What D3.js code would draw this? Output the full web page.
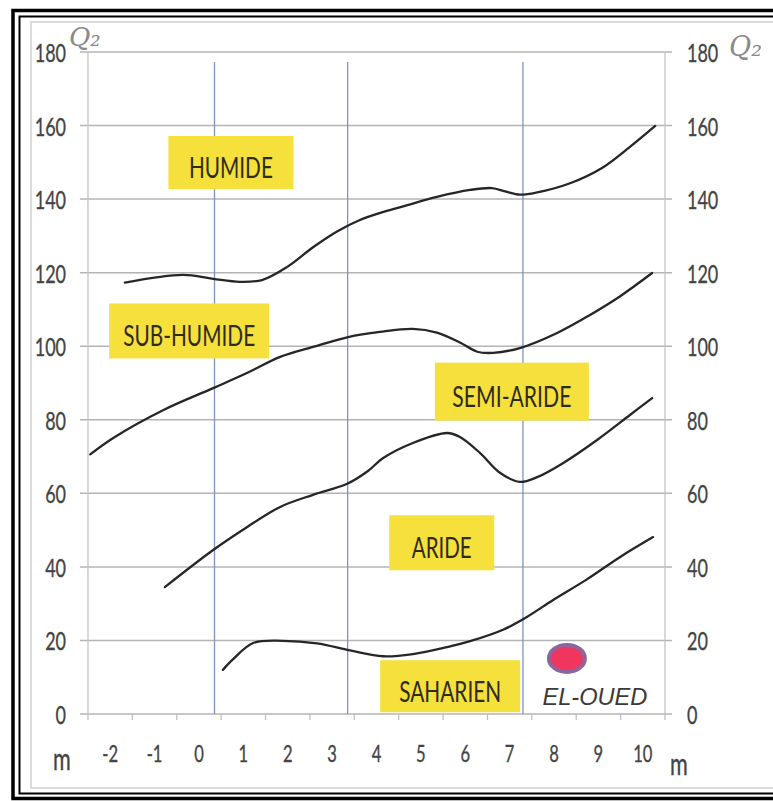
<!DOCTYPE html>
<html><head><meta charset="utf-8">
<script src="https://cdn.jsdelivr.net/npm/d3@7"></script>
<style>html,body{margin:0;padding:0;background:#fff;}svg{display:block;}</style>
</head><body>
<svg id="c" width="773" height="801"></svg>
<script>
// ---------- data ----------
const xTicks = [-2,-1,0,1,2,3,4,5,6,7,8,9,10];           // m (°C)
const yTicks = [0,20,40,60,80,100,120,140,160,180];      // Q2
const boundaries = [0.35, 3.35, 7.3];                    // vertical blue lines (m)

const curveHumide = [[-1.67,117.3],[-0.36,119.4],[0.32,118.3],[0.92,117.5],[1.42,118.0],[1.98,121.5],[2.57,126.9],[3.11,131.2],[3.60,134.2],[4.10,136.3],[4.60,138.0],[5.36,140.6],[6.11,142.5],[6.60,143.0],[6.90,142.1],[7.23,141.2],[7.62,141.8],[8.36,144.3],[9.10,148.6],[9.71,154.2],[10.28,159.9]];
const curveSubHumide = [[-2.45,70.6],[-1.94,75.0],[-0.81,82.6],[0.32,88.6],[1.08,92.7],[1.83,97.1],[2.57,99.8],[3.36,102.5],[4.08,103.9],[4.82,104.7],[5.36,103.7],[5.88,101.0],[6.27,98.5],[6.63,98.2],[7.23,99.5],[8.07,103.6],[8.81,108.5],[9.49,113.6],[10.21,119.9]];
const curveSemiAride = [[-0.77,34.5],[0.32,44.6],[1.08,50.8],[1.83,56.3],[2.57,59.6],[3.34,62.6],[3.80,66.0],[4.15,69.6],[4.82,73.7],[5.59,76.4],[5.88,75.3],[6.33,71.0],[6.78,65.6],[7.23,63.1],[7.62,64.4],[8.20,68.2],[8.97,74.5],[9.71,81.3],[10.21,85.9]];
const curveAride = [[0.54,12.0],[0.77,14.9],[1.22,19.3],[1.89,19.9],[2.66,19.2],[3.40,17.3],[4.15,15.7],[4.82,16.3],[5.59,18.2],[6.11,19.8],[6.85,22.9],[7.39,26.4],[7.98,31.0],[8.74,36.6],[9.49,42.7],[10.23,48.1]];

const zoneNames = ["HUMIDE","SUB-HUMIDE","SEMI-ARIDE","ARIDE","SAHARIEN"];
const zoneX     = [0.72, -0.22, 7.05, 5.47, 5.66];
const zoneQ     = [148.6, 102.8, 86.3, 45.2, 6.2];

const stationName = ["EL-OUED"];
const stationX = [8.29];
const stationQ = [15.1];

// ---------- layout ----------
const svg = d3.select("#c");
const x = d3.scaleLinear().domain([-2.5, 10.5]).range([88, 665]);
const y = d3.scaleLinear().domain([0, 180]).range([714, 52]);
const FONT = "Lato, 'Open Sans', sans-serif";
const SX = 0.72;

// frame
svg.append("rect").attr("x",13).attr("y",10.5).attr("width",800).attr("height",788)
  .attr("fill","none").attr("stroke","#000").attr("stroke-width",3.5);
svg.append("rect").attr("x",19.5).attr("y",16.5).attr("width",800).attr("height",777)
  .attr("fill","none").attr("stroke","#000").attr("stroke-width",2);
svg.append("rect").attr("x",31).attr("y",22).attr("width",800).attr("height",766)
  .attr("fill","none").attr("stroke","#d0d0d0").attr("stroke-width",1.5);

// horizontal gridlines (with outward ticks on both sides)
svg.append("g").selectAll("line").data(yTicks).join("line")
  .attr("x1",80).attr("x2",672).attr("y1",d=>y(d)).attr("y2",d=>y(d))
  .attr("stroke","#b4b4b4").attr("stroke-width",1.5);

// left/right plot borders
[-2.5,10.5].forEach(v=>{
  svg.append("line").attr("x1",x(v)).attr("x2",x(v)).attr("y1",y(180)).attr("y2",y(0))
    .attr("stroke","#c4c4c4").attr("stroke-width",1.3);
});

// x-axis minor ticks
const xt = d3.range(-2.5, 10.51, 1);
svg.append("g").selectAll("line").data(xt).join("line")
  .attr("x1",d=>x(d)).attr("x2",d=>x(d)).attr("y1",y(0)).attr("y2",y(0)+6)
  .attr("stroke","#c0c0c0").attr("stroke-width",1.3);

// vertical blue boundary lines
svg.append("g").selectAll("line").data(boundaries).join("line")
  .attr("x1",d=>x(d)).attr("x2",d=>x(d)).attr("y1",y(177.3)).attr("y2",y(0))
  .attr("stroke","#7f93c8").attr("stroke-width",1.3);

// text helper (horizontally condensed)
function txt(px, py, s, size, anchor, fill){
  return svg.append("text")
    .attr("transform",`translate(${px},${py}) scale(${SX},1)`)
    .attr("font-family",FONT).attr("font-size",size)
    .attr("text-anchor",anchor).attr("fill",fill)
    .attr("stroke",fill).attr("stroke-width",0.35).text(s);
}

// y tick labels
yTicks.forEach(v=>{
  txt(66, y(v)+10, String(v), 25, "end", "#444");
  txt(687, y(v)+10, String(v), 25, "start", "#444");
});
// x tick labels
xTicks.forEach(v=>{
  txt(x(v), 762, String(v), 23, "middle", "#444");
});
// axis unit labels
txt(62, 770, "m", 30, "middle", "#444");
txt(679, 775, "m", 30, "middle", "#444");
// Q2 axis titles
svg.append("text").attr("x",69).attr("y",46).attr("font-family","'DejaVu Serif', serif")
  .attr("font-style","italic").attr("font-size",26).attr("fill","#8a8a8a").text("Q₂");
svg.append("text").attr("x",729).attr("y",56).attr("font-family","'DejaVu Serif', serif")
  .attr("font-style","italic").attr("font-size",27).attr("fill","#8a8a8a").text("Q₂");

// curves
const line = d3.line().x(d=>x(d[0])).y(d=>y(d[1])).curve(d3.curveCatmullRom.alpha(0.5));
[curveHumide, curveSubHumide, curveSemiAride, curveAride].forEach(c=>{
  svg.append("path").datum(c).attr("d",line).attr("fill","none")
    .attr("stroke","#262626").attr("stroke-width",2.3).attr("stroke-linecap","round");
});

// zone labels with yellow boxes
const boxW = [125,160,154,105,140];
const boxH = [53,55,58,55,52];
const textW = [84,132,119,60,102];
zoneNames.forEach((n,i)=>{
  const cx = x(zoneX[i]), cy = y(zoneQ[i]);
  svg.append("rect").attr("x",cx-boxW[i]/2).attr("y",cy-boxH[i]/2-5)
    .attr("width",boxW[i]).attr("height",boxH[i]).attr("fill","#f6e03c");
  svg.append("text").attr("x",cx).attr("y",cy+10.5)
    .attr("font-family",FONT).attr("font-size",29).attr("fill","#2f2b1c")
    .attr("text-anchor","middle").attr("textLength",textW[i]).attr("lengthAdjust","spacingAndGlyphs")
    .text(n);
});

// station point
stationName.forEach((n,i)=>{
  svg.append("ellipse").attr("cx",x(stationX[i])).attr("cy",y(stationQ[i]))
    .attr("rx",18).attr("ry",13.5).attr("fill","#f0365f").attr("stroke","#8d649c").attr("stroke-width",4);
  svg.append("text").attr("x",x(stationX[i])+28).attr("y",705)
    .attr("font-family","'Liberation Sans', sans-serif").attr("font-style","italic").attr("font-size",24)
    .attr("fill","#3a3a3a").attr("text-anchor","middle").attr("textLength",105).attr("lengthAdjust","spacingAndGlyphs")
    .text(n);
});
</script>
</body></html>
